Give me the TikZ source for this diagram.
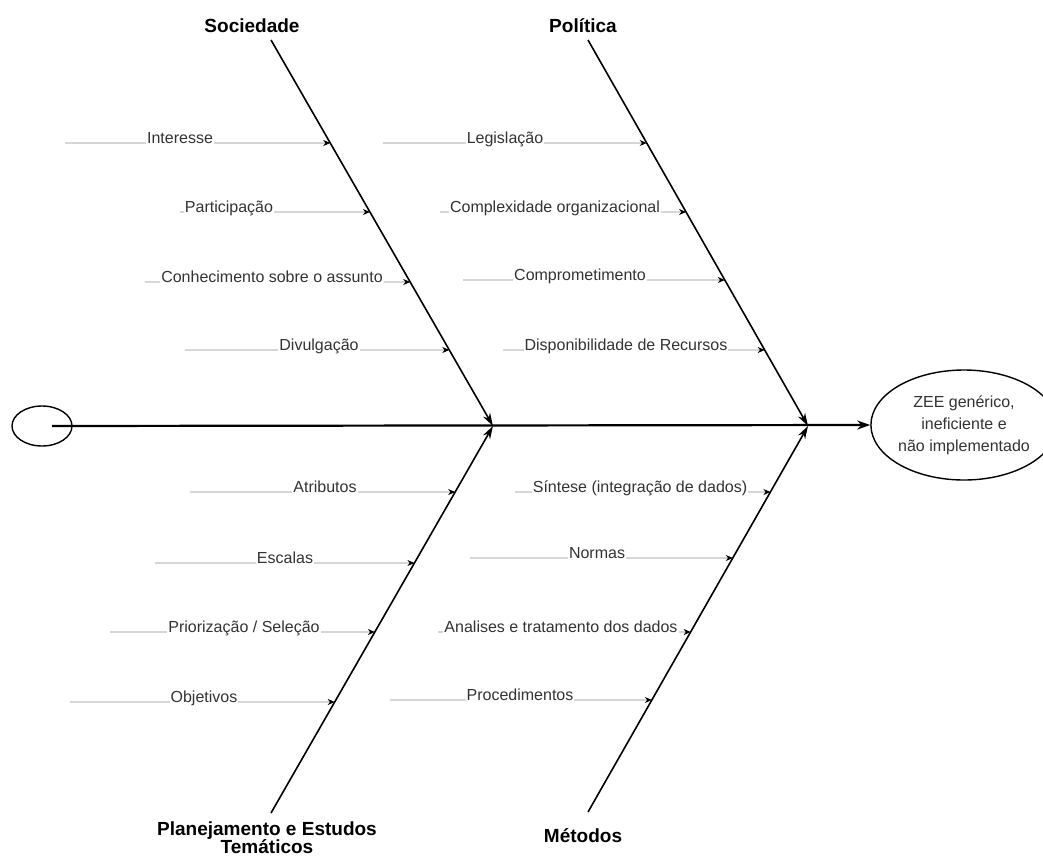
\documentclass[tikz,border=0pt]{standalone}
\usepackage{fontspec}
\setmainfont{Liberation Sans}
\usetikzlibrary{calc,arrows.meta,shapes.geometric}
\begin{document}
\begin{tikzpicture}[x=1pt,y=-1pt,
  spine/.style={line width=2.2pt,black},
  bone/.style={line width=1.6pt,black,-{Stealth[length=13pt,width=8pt]}},
  sub/.style={line width=0.8pt,black!45,-{Stealth[length=7pt,width=6pt,black]}},
  sublbl/.style={font=\fontsize{16}{18}\selectfont,text=black!80,fill=white,inner sep=1pt,anchor=base},
  cat/.style={font=\fontsize{19}{22}\selectfont\bfseries,text=black,align=center},
  effect/.style={draw,ellipse,line width=1.4pt,minimum width=158pt,minimum height=110pt,inner sep=0pt,align=center,font=\fontsize{16}{22}\selectfont,text=black!80}]
\useasboundingbox (0,0) rectangle (1043,859);
\fill[white] (0,0) rectangle (1043,859);

% bone end points
\coordinate (S1) at (271,40);  \coordinate (S2) at (493,426);
\coordinate (Q1) at (588,40);  \coordinate (Q2) at (808,426);
\coordinate (P1) at (271,813); \coordinate (P2) at (493,426);
\coordinate (M1) at (588,812); \coordinate (M2) at (808,426);

% head and tail
\node[draw,ellipse,line width=1.4pt,minimum width=60pt,minimum height=40pt] (tail) at (42,426) {};
\coordinate (spst) at (52,426);
\node[effect] (eff) at (964,425) {ZEE genérico,\\ ineficiente e\\ não implementado};
\draw[spine,-{Stealth[length=13pt,width=9pt]}] (spst) -- (eff.west);

% main bones
\draw[bone] (S1) -- (S2);
\draw[bone] (Q1) -- (Q2);
\draw[bone] (P1) -- (P2);
\draw[bone] (M1) -- (M2);

% category labels
\node[cat] (soc) at (252,26) {Sociedade};
\node[cat] (pol) at (583,26) {Política};
\node[cat] (pla) at (267,838) {Planejamento e Estudos\\[-4pt] Temáticos};
\node[cat] (met) at (583,836) {Métodos};

% Sociedade causes
\coordinate (a1) at (65,143);  \coordinate (a1e) at ($(S1)!{(143-40)/386}!(S2)$);
\coordinate (a2) at (180,212); \coordinate (a2e) at ($(S1)!{(212-40)/386}!(S2)$);
\coordinate (a3) at (145,282); \coordinate (a3e) at ($(S1)!{(282-40)/386}!(S2)$);
\coordinate (a4) at (185,350); \coordinate (a4e) at ($(S1)!{(350-40)/386}!(S2)$);
\draw[sub] (a1) -- (a1e); \draw[sub] (a2) -- (a2e);
\draw[sub] (a3) -- (a3e); \draw[sub] (a4) -- (a4e);
\node[sublbl] (ta1) at (180,143) {Interesse};
\node[sublbl] (ta2) at (229,212) {Participação};
\node[sublbl] (ta3) at (272,282) {Conhecimento sobre o assunto};
\node[sublbl] (ta4) at (319,350) {Divulgação};

% Politica causes
\coordinate (b1) at (383,143); \coordinate (b1e) at ($(Q1)!{(143-40)/386}!(Q2)$);
\coordinate (b2) at (440,212); \coordinate (b2e) at ($(Q1)!{(212-40)/386}!(Q2)$);
\coordinate (b3) at (463,280); \coordinate (b3e) at ($(Q1)!{(280-40)/386}!(Q2)$);
\coordinate (b4) at (503,350); \coordinate (b4e) at ($(Q1)!{(350-40)/386}!(Q2)$);
\draw[sub] (b1) -- (b1e); \draw[sub] (b2) -- (b2e);
\draw[sub] (b3) -- (b3e); \draw[sub] (b4) -- (b4e);
\node[sublbl] (tb1) at (505,143) {Legislação};
\node[sublbl] (tb2) at (555,212) {Complexidade organizacional};
\node[sublbl] (tb3) at (580,280) {Comprometimento};
\node[sublbl] (tb4) at (626,350) {Disponibilidade de Recursos};

% Planejamento causes
\coordinate (c1) at (190,492); \coordinate (c1e) at ($(P1)!{(813-492)/387}!(P2)$);
\coordinate (c2) at (155,563); \coordinate (c2e) at ($(P1)!{(813-563)/387}!(P2)$);
\coordinate (c3) at (110,632); \coordinate (c3e) at ($(P1)!{(813-632)/387}!(P2)$);
\coordinate (c4) at (70,702);  \coordinate (c4e) at ($(P1)!{(813-702)/387}!(P2)$);
\draw[sub] (c1) -- (c1e); \draw[sub] (c2) -- (c2e);
\draw[sub] (c3) -- (c3e); \draw[sub] (c4) -- (c4e);
\node[sublbl] (tc1) at (325,492) {Atributos};
\node[sublbl] (tc2) at (285,563) {Escalas};
\node[sublbl] (tc3) at (244,632) {Priorização / Seleção};
\node[sublbl] (tc4) at (204,702) {Objetivos};

% Metodos causes
\coordinate (d1) at (515,492); \coordinate (d1e) at ($(M1)!{(812-492)/386}!(M2)$);
\coordinate (d2) at (470,558); \coordinate (d2e) at ($(M1)!{(812-558)/386}!(M2)$);
\coordinate (d3) at (438,632); \coordinate (d3e) at ($(M1)!{(812-632)/386}!(M2)$);
\coordinate (d4) at (390,700); \coordinate (d4e) at ($(M1)!{(812-700)/386}!(M2)$);
\draw[sub] (d1) -- (d1e); \draw[sub] (d2) -- (d2e);
\draw[sub] (d3) -- (d3e); \draw[sub] (d4) -- (d4e);
\node[sublbl] (td1) at (640,492) {Síntese (integração de dados)};
\node[sublbl] (td2) at (597,558) {Normas};
\node[sublbl] (td3) at (561,632) {Analises e tratamento dos dados};
\node[sublbl] (td4) at (520,700) {Procedimentos};
\end{tikzpicture}
\end{document}
